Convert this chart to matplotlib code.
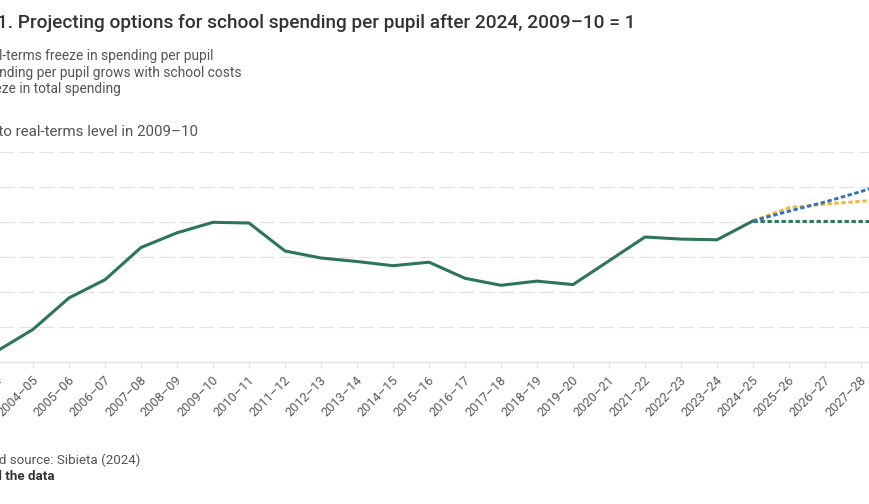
import matplotlib
matplotlib.use('Agg')
import matplotlib.pyplot as plt
import matplotlib.transforms as mtransforms

plt.rcParams['font.family'] = ['Roboto', 'DejaVu Sans']

# Dane (indeks, 2009-10 = 1)
years = ['2003–04', '2004–05', '2005–06', '2006–07', '2007–08', '2008–09',
         '2009–10', '2010–11', '2011–12', '2012–13', '2013–14', '2014–15',
         '2015–16', '2016–17', '2017–18', '2018–19', '2019–20', '2020–21',
         '2021–22', '2022–23', '2023–24', '2024–25', '2025–26', '2026–27',
         '2027–28', '2028–29']
actual = [0.816, 0.847, 0.892, 0.918, 0.964, 0.985, 1.000, 0.999, 0.959,
          0.949, 0.944, 0.938, 0.943, 0.920, 0.910, 0.916, 0.911, 0.945,
          0.979, 0.976, 0.975, 1.002]
proj_years = years[21:]
freeze_per_pupil = [1.002, 1.002, 1.002, 1.002, 1.002]
school_costs = [1.002, 1.021, 1.026, 1.030, 1.034]
freeze_total = [1.002, 1.016, 1.029, 1.044, 1.060]

legend_labels = ['Real-terms freeze in spending per pupil',
                 'Spending per pupil grows with school costs',
                 'Freeze in total spending']

W, H = 869, 504
fig = plt.figure(figsize=(W/100, H/100), dpi=100)

def fx(x):
    return x / W

def fy(y):
    return 1 - y / H

# os: piksele -40..869 w poziomie, 152..362 w pionie
ax = fig.add_axes([fx(-40), fy(362.3), (869 + 40) / W, (362.3 - 152.3) / H])
x_all = list(range(len(years)))
x_proj = x_all[21:]

ax.plot(x_all[:len(actual)], actual, color='#2b7657', lw=2.2, solid_joinstyle='round', zorder=3)
ax.plot(x_proj, freeze_per_pupil, color='#2b7657', lw=2.1, dashes=(1.5, 0.9), zorder=3)
ax.plot(x_proj, school_costs, color='#f1b63a', lw=2.1, dashes=(1.5, 0.9), zorder=3)
ax.plot(x_proj, freeze_total, color='#3172c0', lw=2.1, dashes=(1.5, 0.9), zorder=4)

ax.set_xticks(x_all)
ax.set_xticklabels(years, rotation=45, ha='right', va='center',
                   rotation_mode='anchor', fontsize=9.2, color='#5a5a5a')
ax.tick_params(axis='x', length=4, width=1, color='#e2e2e2', pad=7.5)
shift = mtransforms.ScaledTranslation(3/100, 0, fig.dpi_scale_trans)
for t in ax.get_xticklabels():
    t.set_transform(t.get_transform() + shift)
# xlim po set_xticks, bo set_xticks poszerza zakres
ax.set_xlim((-40 + 3) / 36, (869 + 3) / 36)
ax.set_ylim(0.80, 1.10)
ax.set_yticks([0.85, 0.90, 0.95, 1.00, 1.05, 1.10])
ax.set_yticklabels([])
ax.tick_params(axis='y', length=0)
ax.grid(axis='y', color='#e2e2e2', lw=0.9, dashes=(12, 4))
ax.set_axisbelow(True)

for s in ['top', 'right', 'left']:
    ax.spines[s].set_visible(False)
ax.spines['bottom'].set_color('#e2e2e2')
ax.spines['bottom'].set_linewidth(1)

# teksty (częściowo poza kadrem)
fig.text(fx(635), fy(28.3), 'Figure 1. Projecting options for school spending per pupil after 2024, 2009–10 = 1',
         ha='right', va='baseline', fontsize=13.7, fontweight='medium', color='#333333')
for lab, xr, yb in zip(legend_labels, [213, 241, 121], [60, 76.5, 93]):
    fig.text(fx(xr), fy(yb), lab, ha='right', va='baseline', fontsize=9.95, color='#555555')
fig.text(fx(198), fy(136.5), 'Relative to real-terms level in 2009–10',
         ha='right', va='baseline', fontsize=10.9, color='#555555')
fig.text(fx(140), fy(464.5), 'Note and source: Sibieta (2024)',
         ha='right', va='baseline', fontsize=9.6, color='#555555')
fig.text(fx(55), fy(479.5), 'Download the data',
         ha='right', va='baseline', fontsize=9.6, fontweight='bold', color='#333333')

fig.savefig('out.png', dpi=100)
